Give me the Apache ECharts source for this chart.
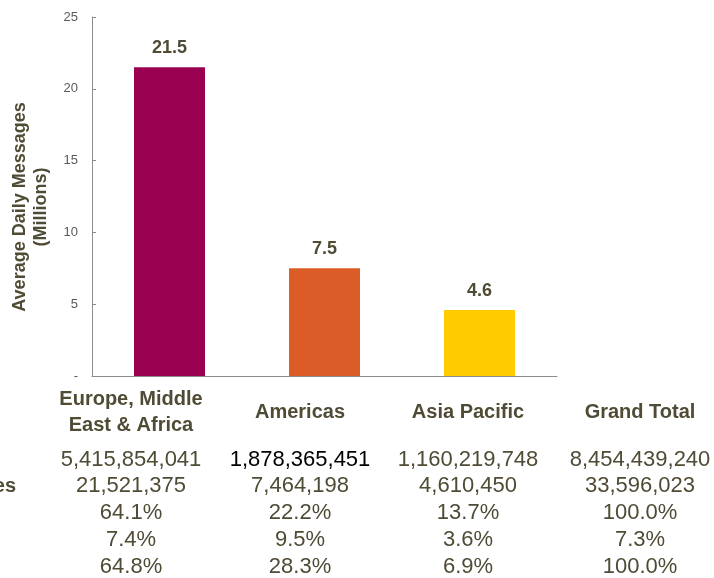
<!DOCTYPE html>
<html>
<head>
<meta charset="utf-8">
<script src="https://cdn.jsdelivr.net/npm/echarts@6/dist/echarts.min.js"></script>
<style>
html, body { margin: 0; padding: 0; background: #fff; }
#main { width: 714px; height: 578px; }
</style>
</head>
<body>
<div id="main"></div>
<script>
// chart data
var regions = ['Europe, Middle East & Africa', 'Americas', 'Asia Pacific'];
var avgDailyMillions = [21.5, 7.5, 4.6];
var barColors = ['#990050', '#DB5C26', '#FFCC00'];
var yTicks = [0, 5, 10, 15, 20, 25];

// table under the chart
var tableCols = ['Europe, Middle\nEast & Africa', 'Americas', 'Asia Pacific', 'Grand Total'];
var rowLabels = ['Total Messages', 'Average Daily Messages', '% of Total', 'Growth', '% of Growth'];
var totalMessages = [5415854041, 1878365451, 1160219748, 8454439240];
var avgDailyMessages = [21521375, 7464198, 4610450, 33596023];
var pctOfTotal = [64.1, 22.2, 13.7, 100.0];
var growthPct = [7.4, 9.5, 3.6, 7.3];
var pctOfGrowth = [64.8, 28.3, 6.9, 100.0];

var textColor = '#4F4B35';
var fontFam = '"Liberation Sans", Arial, sans-serif';

function fmtInt(v) { return v.toLocaleString('en-US'); }
function fmtPct(v) { return v.toFixed(1) + '%'; }

var colX = [131, 300, 468, 640];
var rowY = [460, 486, 513, 540, 567];
var tableRows = [
    totalMessages.map(fmtInt),
    avgDailyMessages.map(fmtInt),
    pctOfTotal.map(fmtPct),
    growthPct.map(fmtPct),
    pctOfGrowth.map(fmtPct)
];

// row labels are left aligned and run off the left edge, only the longest shows its end
var ctx = document.createElement('canvas').getContext('2d');
ctx.font = 'bold 20px ' + fontFam;
var labelLeft = 16 - ctx.measureText(rowLabels[1]).width;

var graphics = [];
tableCols.forEach(function (name, i) {
    graphics.push({
        type: 'text', x: colX[i], y: 412,
        style: {
            text: name, fill: textColor, align: 'center', verticalAlign: 'middle',
            fontFamily: fontFam, fontWeight: 'bold', fontSize: 20, lineHeight: 26
        }
    });
});
tableRows.forEach(function (row, r) {
    row.forEach(function (txt, c) {
        graphics.push({
            type: 'text', x: colX[c], y: rowY[r],
            style: {
                text: txt, align: 'center', verticalAlign: 'middle',
                // the Americas total is black in the original
                fill: (r === 0 && c === 1) ? '#000' : textColor,
                fontFamily: fontFam, fontSize: 22
            }
        });
    });
    graphics.push({
        type: 'text', x: labelLeft, y: rowY[r],
        style: {
            text: rowLabels[r], fill: textColor, align: 'left', verticalAlign: 'middle',
            fontFamily: fontFam, fontWeight: 'bold', fontSize: 20
        }
    });
});
// y axis title
graphics.push({
    type: 'text', x: 31, y: 207, rotation: Math.PI / 2,
    style: {
        text: 'Average Daily Messages\n(Millions)', fill: textColor,
        align: 'center', verticalAlign: 'middle',
        fontFamily: fontFam, fontWeight: 'bold', fontSize: 18, lineHeight: 21
    }
});

var chart = echarts.init(document.getElementById('main'));
var option = {
    animation: false,
    grid: { left: 92, top: 17, right: 157, bottom: 202 },
    xAxis: {
        type: 'category',
        data: regions,
        axisLine: { lineStyle: { color: '#8C8C8C', width: 1 } },
        axisTick: { show: false },
        axisLabel: { show: false }
    },
    yAxis: {
        type: 'value',
        min: yTicks[0],
        max: yTicks[yTicks.length - 1],
        interval: 5,
        axisLine: { show: true, lineStyle: { color: '#8C8C8C', width: 1 } },
        axisTick: { show: true, inside: true, length: 4, lineStyle: { color: '#8C8C8C' } },
        splitLine: { show: false },
        axisLabel: {
            color: '#595959', fontFamily: fontFam, fontSize: 13, margin: 14,
            formatter: function (v) { return v === 0 ? '-' : v; }
        }
    },
    series: [{
        type: 'bar',
        barWidth: 71,
        data: avgDailyMillions.map(function (v, i) {
            return { value: v, itemStyle: { color: barColors[i] } };
        }),
        label: {
            show: true, position: 'top', distance: 10,
            color: textColor, fontFamily: fontFam, fontWeight: 'bold', fontSize: 18,
            formatter: function (p) { return p.value.toFixed(1); }
        }
    }],
    graphic: graphics
};
chart.setOption(option);
</script>
</body>
</html>
